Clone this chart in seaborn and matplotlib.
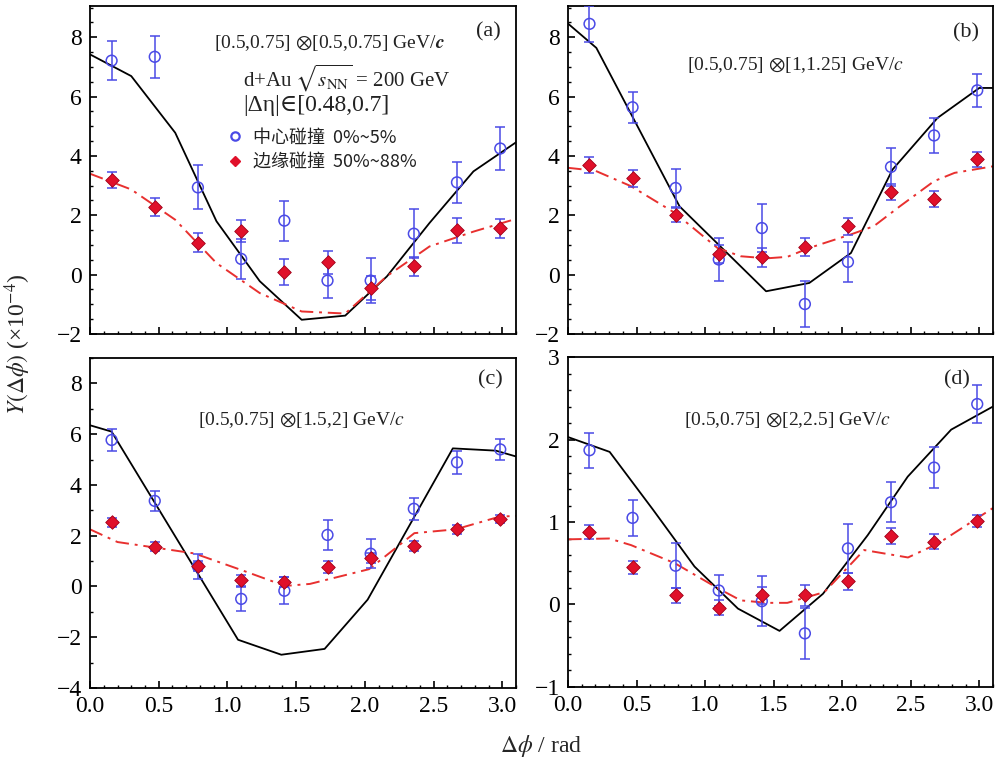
import matplotlib
matplotlib.use("Agg")
import matplotlib.pyplot as plt
from matplotlib.ticker import MultipleLocator, FuncFormatter, FormatStrFormatter
from matplotlib.lines import Line2D
import seaborn as sns
import pandas as pd

# Δφ bin centres shared by all panels
phi = [0.157, 0.471, 0.785, 1.100, 1.414, 1.728, 2.042, 2.356, 2.670, 2.985]

# ---- (a) [0.5,0.75] x [0.5,0.75] GeV/c ----
a_central = [7.21, 7.34, 2.94, 0.53, 1.82, -0.20, -0.20, 1.38, 3.11, 4.25]
a_central_err = [0.65, 0.70, 0.74, 0.68, 0.67, 0.60, 0.75, 0.83, 0.68, 0.71]
a_periph = [3.20, 2.29, 1.08, 1.47, 0.09, 0.42, -0.44, 0.28, 1.49, 1.56]
a_periph_err = [0.27, 0.30, 0.32, 0.38, 0.43, 0.39, 0.40, 0.33, 0.42, 0.31]
a_model_c_x = [0.0, 0.30, 0.62, 0.92, 1.235, 1.54, 1.857, 2.16, 2.47, 2.79, 3.10]
a_model_c_y = [7.42, 6.69, 4.78, 1.80, -0.22, -1.52, -1.38, -0.06, 1.74, 3.48, 4.46]
a_model_p_x = [0.0, 0.30, 0.62, 0.92, 1.235, 1.54, 1.857, 2.16, 2.47, 2.79, 3.10]
a_model_p_y = [3.40, 2.87, 1.85, 0.39, -0.62, -1.24, -1.31, -0.05, 0.95, 1.45, 1.88]

# ---- (b) [0.5,0.75] x [1,1.25] GeV/c ----
b_central = [8.45, 5.64, 2.92, 0.51, 1.57, -0.99, 0.43, 3.63, 4.69, 6.21]
b_central_err = [0.60, 0.53, 0.65, 0.71, 0.80, 0.79, 0.68, 0.64, 0.58, 0.56]
b_periph = [3.69, 3.24, 2.02, 0.70, 0.58, 0.93, 1.63, 2.79, 2.55, 3.88]
b_periph_err = [0.28, 0.28, 0.24, 0.30, 0.33, 0.31, 0.28, 0.26, 0.27, 0.24]
b_model_c_x = [0.0, 0.207, 0.814, 1.445, 1.76, 2.064, 2.367, 2.695, 3.0, 3.10]
b_model_c_y = [8.46, 7.64, 2.30, -0.56, -0.28, 0.73, 3.54, 5.28, 6.29, 6.29]
b_model_p_x = [0.0, 0.20, 0.46, 0.78, 1.09, 1.26, 1.45, 1.60, 1.76, 2.06, 2.23, 2.42, 2.67, 2.82, 3.10]
b_model_p_y = [3.60, 3.50, 2.98, 2.08, 0.90, 0.62, 0.55, 0.60, 0.90, 1.35, 1.63, 2.30, 3.15, 3.43, 3.65]

# ---- (c) [0.5,0.75] x [1.5,2] GeV/c ----
c_central = [5.77, 3.37, 0.79, -0.49, -0.17, 2.03, 1.29, 3.06, 4.89, 5.40]
c_central_err = [0.43, 0.40, 0.48, 0.48, 0.54, 0.59, 0.56, 0.44, 0.44, 0.40]
c_periph = [2.52, 1.57, 0.81, 0.24, 0.17, 0.77, 1.11, 1.60, 2.26, 2.66]
c_periph_err = [0.18, 0.17, 0.20, 0.22, 0.21, 0.23, 0.20, 0.20, 0.18, 0.17]
c_model_c_x = [0.0, 0.157, 1.077, 1.392, 1.707, 2.02, 2.64, 2.953, 3.10]
c_model_c_y = [6.35, 6.10, -2.10, -2.69, -2.46, -0.52, 5.44, 5.35, 5.12]
c_model_p_x = [0.0, 0.20, 0.45, 0.76, 1.10, 1.42, 1.60, 2.03, 2.36, 2.66, 2.98, 3.10]
c_model_p_y = [2.25, 1.75, 1.55, 1.30, 0.65, 0.02, 0.10, 0.68, 2.10, 2.25, 2.75, 2.78]

# ---- (d) [0.5,0.75] x [2,2.5] GeV/c ----
d_central = [1.87, 1.05, 0.47, 0.17, 0.04, -0.35, 0.68, 1.24, 1.66, 2.43]
d_central_err = [0.21, 0.22, 0.27, 0.19, 0.30, 0.31, 0.30, 0.24, 0.25, 0.23]
d_periph = [0.88, 0.45, 0.11, -0.04, 0.11, 0.11, 0.28, 0.83, 0.76, 1.01]
d_periph_err = [0.08, 0.08, 0.09, 0.09, 0.10, 0.13, 0.10, 0.10, 0.09, 0.07]
d_model_c_x = [0.0, 0.304, 0.62, 0.923, 1.24, 1.543, 1.86, 2.186, 2.478, 2.795, 3.10]
d_model_c_y = [2.03, 1.85, 1.15, 0.46, -0.05, -0.32, 0.13, 0.84, 1.55, 2.12, 2.40]
d_model_p_x = [0.0, 0.30, 0.46, 0.78, 1.09, 1.26, 1.45, 1.60, 1.87, 2.16, 2.48, 2.70, 3.10]
d_model_p_y = [0.79, 0.80, 0.72, 0.50, 0.20, 0.05, 0.02, 0.02, 0.15, 0.66, 0.57, 0.74, 1.17]

panel_titles = [r"[0.5,0.75] $\otimes$[0.5,0.75] GeV/",
                r"[0.5,0.75] $\otimes$[1,1.25] GeV/",
                r"[0.5,0.75] $\otimes$[1.5,2] GeV/",
                r"[0.5,0.75] $\otimes$[2,2.5] GeV/"]
panel_tags = ["(a)", "(b)", "(c)", "(d)"]
legend_labels = ["中心碰撞  0%~5%", "边缘碰撞  50%~88%"]

sns.set_theme(style="ticks")
plt.rcParams["font.family"] = ["Liberation Serif", "DejaVu Serif"]
plt.rcParams["mathtext.fontset"] = "stix"
plt.rcParams["axes.linewidth"] = 1.3
plt.rcParams["axes.edgecolor"] = "black"

BLUE = "#4a4ae6"
RED = "#e0102a"
RED_LINE = "#e8302f"

fig = plt.figure(figsize=(9.98, 7.64), dpi=100)
rects = [
    [0.0902, 0.5628, 0.4269, 0.4293],
    [0.5691, 0.5628, 0.4259, 0.4293],
    [0.0902, 0.0995, 0.4269, 0.4319],
    [0.5691, 0.1008, 0.4259, 0.4319],
]
ylims = [(-2, 9.05), (-2, 9.05), (-4, 9.0), (-1, 3.0)]
ymajor = [2, 2, 2, 1]
yminor = [0.5, 0.5, 1, 0.2]
title_pos = [(0.29, 0.887), (0.279, 0.82), (0.254, 0.812), (0.272, 0.809)]
tag_pos = [(0.934, 0.92), (0.937, 0.918), (0.94, 0.933), (0.915, 0.93)]

panels = [
    (a_central, a_central_err, a_periph, a_periph_err, a_model_c_x, a_model_c_y, a_model_p_x, a_model_p_y),
    (b_central, b_central_err, b_periph, b_periph_err, b_model_c_x, b_model_c_y, b_model_p_x, b_model_p_y),
    (c_central, c_central_err, c_periph, c_periph_err, c_model_c_x, c_model_c_y, c_model_p_x, c_model_p_y),
    (d_central, d_central_err, d_periph, d_periph_err, d_model_c_x, d_model_c_y, d_model_p_x, d_model_p_y),
]

for i, (cen, cen_e, per, per_e, mcx, mcy, mpx, mpy) in enumerate(panels):
    ax = fig.add_axes(rects[i])

    model_c = pd.DataFrame({"x": mcx, "y": mcy})
    model_p = pd.DataFrame({"x": mpx, "y": mpy})
    sns.lineplot(data=model_c, x="x", y="y", ax=ax, color="black", lw=1.3,
                 sort=False, estimator=None, zorder=2)
    sns.lineplot(data=model_p, x="x", y="y", ax=ax, color=RED_LINE, lw=1.4,
                 sort=False, estimator=None, zorder=2)
    ax.lines[-1].set_linestyle((0, (7, 3, 1.5, 3)))

    ax.errorbar(phi, cen, yerr=cen_e, fmt="none", ecolor=BLUE, elinewidth=1.1,
                capsize=3.5, capthick=1.1, zorder=3)
    ax.errorbar(phi, per, yerr=per_e, fmt="none", ecolor=BLUE, elinewidth=1.1,
                capsize=3.5, capthick=1.1, zorder=3)
    pts_c = pd.DataFrame({"x": phi, "y": cen})
    pts_p = pd.DataFrame({"x": phi, "y": per})
    sns.scatterplot(data=pts_c, x="x", y="y", ax=ax, marker="o", s=60,
                    facecolor="none", edgecolor=BLUE, linewidth=1.1, zorder=4)
    sns.scatterplot(data=pts_p, x="x", y="y", ax=ax, marker="D", s=48,
                    color=RED, edgecolor="#a00018", linewidth=0.6, zorder=5)

    ax.set_xlim(0, 3.1)
    ax.set_ylim(*ylims[i])
    ax.xaxis.set_major_locator(MultipleLocator(0.5))
    ax.xaxis.set_minor_locator(MultipleLocator(0.1))
    ax.xaxis.set_major_formatter(FormatStrFormatter("%.1f"))
    ax.yaxis.set_major_locator(MultipleLocator(ymajor[i]))
    ax.yaxis.set_minor_locator(MultipleLocator(yminor[i]))
    ax.yaxis.set_major_formatter(FuncFormatter(
        lambda v, p: ("\u2212%d" % round(abs(v))) if v < 0 else "%d" % round(v)))
    ax.tick_params(which="both", direction="in", top=False, right=False,
                   labelsize=17, colors="black", pad=6)
    ax.tick_params(which="major", length=5, width=1.2)
    ax.tick_params(which="minor", length=2.5, width=1.0)
    ax.set_xlabel("")
    ax.set_ylabel("")
    for sp in ax.spines.values():
        sp.set_visible(True)
        sp.set_color("black")
    if i < 2:
        ax.tick_params(labelbottom=False)

    tx, ty = title_pos[i]
    cstyle = r"$\boldsymbol{c}$" if i == 0 else r"$c$"
    ax.text(tx, ty, panel_titles[i] + cstyle, transform=ax.transAxes,
            fontsize=14, va="center", ha="left", color="#222222")
    gx, gy = tag_pos[i]
    ax.text(gx, gy, panel_tags[i], transform=ax.transAxes, fontsize=16,
            va="center", ha="center", color="#222222")

    if i == 0:
        ax.text(0.36, 0.78, r"d+Au $\sqrt{s_{\rm NN}}$ = 200 GeV",
                transform=ax.transAxes, fontsize=15, va="center", ha="left",
                color="#222222")
        ax.text(0.36, 0.698, "|\u0394\u03b7|\u2208[0.48,0.7]",
                transform=ax.transAxes, fontsize=17, va="center", ha="left",
                color="#222222")
        handles = [
            Line2D([], [], marker="o", ls="none", markersize=6,
                   markerfacecolor="none", markeredgecolor=BLUE, markeredgewidth=1.6),
            Line2D([], [], marker="D", ls="none", markersize=5.5,
                   markerfacecolor=RED, markeredgecolor=RED),
        ]
        leg = ax.legend(handles, legend_labels, loc="center left",
                        bbox_to_anchor=(0.285, 0.562), frameon=False,
                        handlelength=0.8, handletextpad=0.6, labelspacing=0.35,
                        prop={"family": ["Noto Sans CJK SC", "DejaVu Sans"], "size": 13})
        for t in leg.get_texts():
            t.set_color("#222222")

fig.text(0.018, 0.55, r"$Y(\Delta\phi)$ (×10$^{-4}$)", rotation=90,
         fontsize=17, va="center", ha="center")
fig.text(0.542, 0.023, r"$\Delta\phi$ / rad", fontsize=17, va="center",
         ha="center")

fig.savefig("out.png", dpi=100, facecolor="white")
